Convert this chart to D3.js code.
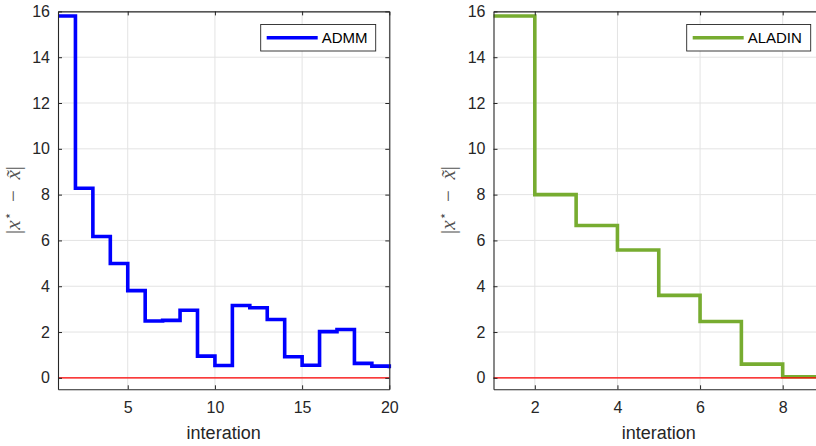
<!DOCTYPE html>
<html><head><meta charset="utf-8">
<script src="https://cdn.jsdelivr.net/npm/d3@7"></script>
<style>
body{margin:0;background:#fff;}
svg{display:block;}
</style></head>
<body>
<svg id="c" width="816" height="446"></svg>
<script>
// ---- data ----
const admmIter = d3.range(1, 21);
const admmVals = [15.8, 8.28, 6.17, 4.99, 3.81, 2.48, 2.51, 2.95, 0.95, 0.54, 3.16, 3.06, 2.55, 0.92, 0.55, 2.02, 2.11, 0.63, 0.51, 0.42];
const aladinIter = d3.range(1, 10);
const aladinVals = [15.8, 8.0, 6.65, 5.58, 3.6, 2.46, 0.6, 0.05, 0.05];
const yTicks = [0, 2, 4, 6, 8, 10, 12, 14, 16];
const admmXTicks = [5, 10, 15, 20];
const aladinXTicks = [2, 4, 6, 8];
const xLabel = "interation";

const svg = d3.select("#c");
const axisColor = "#262626";
const gridColor = "#e3e3e3";
const FONT = "'Liberation Sans', Arial, Helvetica, sans-serif";

function panel(cfg) {
  const x = d3.scaleLinear().domain(cfg.xDomain).range([cfg.left, cfg.right]);
  const y = d3.scaleLinear().domain([-0.5, 16]).range([389.3, 11.4]);
  const g = svg.append("g");
  // grid
  g.append("g").selectAll("line.gx").data(cfg.xTicks).join("line")
    .attr("x1", d => x(d)).attr("x2", d => x(d)).attr("y1", y(16)).attr("y2", y(-0.5))
    .attr("stroke", gridColor).attr("stroke-width", 1);
  g.append("g").selectAll("line.gy").data(yTicks).join("line")
    .attr("x1", cfg.left).attr("x2", cfg.right).attr("y1", d => y(d)).attr("y2", d => y(d))
    .attr("stroke", gridColor).attr("stroke-width", 1);
  // data
  const line = d3.line().x((d, i) => x(cfg.iter[i])).y(d => y(d)).curve(d3.curveStepAfter);
  g.append("path").datum(cfg.vals).attr("d", line)
    .attr("fill", "none").attr("stroke", cfg.color).attr("stroke-width", 3.6)
    .attr("stroke-linejoin", "miter");
  // zero reference line
  g.append("line").attr("x1", cfg.left).attr("x2", cfg.right)
    .attr("y1", y(0)).attr("y2", y(0)).attr("stroke", "#ff0000").attr("stroke-width", 1.2);
  // axes
  const styleAxis = a => {
    a.selectAll("path,line").attr("stroke", axisColor);
    a.selectAll("text").attr("fill", axisColor).style("font-family", FONT).style("font-size", "16px");
  };
  g.append("g").attr("transform", `translate(0,${y(-0.5)})`)
    .call(d3.axisBottom(x).tickValues(cfg.xTicks).tickFormat(d3.format("d")).tickSizeInner(-4).tickSizeOuter(0).tickPadding(12))
    .call(styleAxis);
  g.append("g").attr("transform", `translate(0,${y(16)})`)
    .call(d3.axisTop(x).tickValues(cfg.xTicks).tickFormat("").tickSizeInner(-4).tickSizeOuter(0))
    .call(styleAxis);
  g.append("g").attr("transform", `translate(${cfg.left},0)`)
    .call(d3.axisLeft(y).tickValues(yTicks).tickFormat(d3.format("d")).tickSizeInner(-4).tickSizeOuter(0).tickPadding(8))
    .call(styleAxis);
  g.append("g").attr("transform", `translate(${cfg.right},0)`)
    .call(d3.axisRight(y).tickValues(yTicks).tickFormat("").tickSizeInner(-4).tickSizeOuter(0))
    .call(styleAxis);
  g.selectAll(".domain").attr("stroke-width", 1.1);
  // x label
  g.append("text").attr("x", (cfg.left + cfg.right) / 2).attr("y", 439)
    .attr("text-anchor", "middle").attr("fill", axisColor)
    .style("font-family", FONT).style("font-size", "18px").text(xLabel);
  // y label (LaTeX-like)
  const yl = g.append("text")
    .attr("transform", `translate(${cfg.ylabX},200) rotate(-90)`)
    .attr("text-anchor", "middle").attr("fill", "#555")
    .style("font-family", "'Liberation Serif','DejaVu Serif',serif").style("font-size", "21px");
  yl.append("tspan").text("|");
  yl.append("tspan").style("font-style", "italic").text("x");
  yl.append("tspan").attr("dy", -8).style("font-size", "13px").text("\u22C6");
  yl.append("tspan").attr("dy", 8).text("\u2002\u2212\u2002");
  yl.append("tspan").style("font-style", "italic").text("x\u0303");
  yl.append("tspan").text("|");
  // legend
  const lg = g.append("g");
  lg.append("rect").attr("x", cfg.legX).attr("y", 24.5).attr("width", cfg.legW).attr("height", 26.5)
    .attr("fill", "#fff").attr("stroke", axisColor).attr("stroke-width", 0.9);
  lg.append("line").attr("x1", cfg.legX + 6).attr("x2", cfg.legX + 57).attr("y1", 37.7).attr("y2", 37.7)
    .attr("stroke", cfg.color).attr("stroke-width", 3.6);
  lg.append("text").attr("x", cfg.legX + 61).attr("y", 43).attr("fill", "#000")
    .style("font-family", FONT).style("font-size", "15px").text(cfg.name);
}

panel({xDomain: [1, 20], left: 58, right: 389.3, iter: admmIter, vals: admmVals, xTicks: admmXTicks,
       color: "#0000ff", ylabX: 20, legX: 260.7, legW: 115, name: "ADMM"});
panel({xDomain: [1, 9], left: 493.5, right: 824, iter: aladinIter, vals: aladinVals, xTicks: aladinXTicks,
       color: "#77ac30", ylabX: 455, legX: 686.7, legW: 124, name: "ALADIN"});
</script>
</body></html>
